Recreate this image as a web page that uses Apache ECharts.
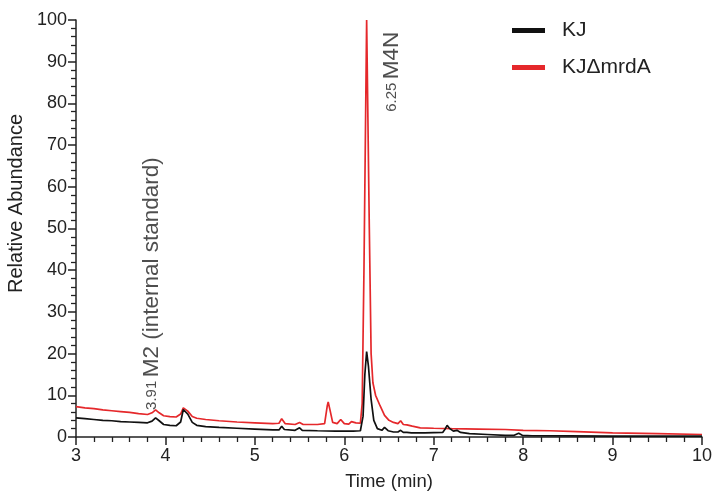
<!DOCTYPE html>
<html><head><meta charset="utf-8">
<script src="https://cdn.jsdelivr.net/npm/echarts@6/dist/echarts.min.js"></script>
<style>html,body{margin:0;padding:0;background:#fff}#c{width:713px;height:495px}</style>
</head><body><div id="c"></div>
<script>
const kjTime = [3.00,3.10,3.20,3.30,3.40,3.50,3.60,3.70,3.80,3.85,3.89,3.93,3.98,4.05,4.12,4.17,4.20,4.22,4.25,4.30,4.35,4.45,4.60,4.80,5.00,5.20,5.27,5.30,5.33,5.45,5.50,5.53,5.70,5.90,6.10,6.18,6.21,6.23,6.25,6.27,6.30,6.33,6.37,6.42,6.45,6.49,6.55,6.60,6.63,6.66,6.70,6.72,6.75,6.90,7.10,7.13,7.15,7.18,7.22,7.26,7.30,7.40,7.60,7.80,7.90,7.95,7.99,8.10,8.50,9.00,9.50,10.00];
const kjValues = [4.6,4.4,4.2,4.0,3.9,3.7,3.6,3.5,3.4,3.8,4.6,3.9,3.0,2.8,2.7,3.6,6.6,7.0,5.5,3.5,2.8,2.5,2.3,2.1,1.9,1.7,1.7,2.6,1.8,1.6,2.2,1.6,1.5,1.4,1.4,1.5,5,15,20.5,17,9,4,2.0,1.6,2.3,1.5,1.2,1.2,1.6,1.1,1.1,1.4,1.0,1.0,1.1,2.0,2.8,2.0,1.4,1.6,1.1,0.8,0.6,0.4,0.4,0.9,0.4,0.3,0.25,0.2,0.2,0.2];
const mrdTime = [3.00,3.10,3.20,3.30,3.40,3.50,3.60,3.70,3.80,3.85,3.89,3.93,3.98,4.05,4.12,4.17,4.20,4.22,4.25,4.30,4.35,4.45,4.60,4.80,5.00,5.20,5.27,5.30,5.34,5.45,5.50,5.54,5.70,5.78,5.81,5.82,5.84,5.87,5.92,5.96,6.00,6.05,6.08,6.13,6.18,6.20,6.22,6.25,6.28,6.30,6.32,6.35,6.40,6.45,6.50,6.55,6.60,6.63,6.66,6.70,6.72,6.76,6.85,7.00,7.20,7.50,7.80,8.00,8.30,8.60,9.00,9.50,10.00];
const mrdValues = [7.3,7.0,6.8,6.5,6.3,6.1,5.9,5.6,5.4,5.8,6.5,5.8,5.1,4.9,4.8,5.5,7.0,7.2,6.2,4.9,4.5,4.2,3.9,3.6,3.4,3.2,3.3,4.4,3.2,3.0,3.5,3.0,3.0,3.2,7.5,8.4,6.5,3.5,3.2,4.2,3.2,3.1,3.7,3.4,3.3,8,40,100,50,20,13,10,7.5,5.2,4.0,3.5,3.2,3.9,3.0,2.9,3.3,2.6,2.2,2.1,2.0,1.9,1.8,1.6,1.5,1.3,1.0,0.8,0.6];
const xTicks = [3,4,5,6,7,8,9,10];
const yTicks = [0,10,20,30,40,50,60,70,80,90,100];
const seriesNames = ['KJ','KJΔmrdA'];
const annotations = [
  {x:3.85, y:6.5, small:'3.91', big:'M2 (internal standard)'},
  {x:6.53, y:78, small:'6.25', big:'M4N'}
];

const zip = (a,b)=>a.map((t,i)=>[t,b[i]]);
const font = 'Liberation Sans, Arial, Helvetica, sans-serif';
const chart = echarts.init(document.getElementById('c'), null, {renderer:'canvas'});
const axisCommon = {
  axisLine:{show:true,lineStyle:{color:'#222',width:1.5}},
  axisTick:{show:true,inside:false,length:8,lineStyle:{color:'#222',width:1.5}},
  minorTick:{show:true,splitNumber:5,length:5,lineStyle:{color:'#222',width:1.3}},
  splitLine:{show:false},
  axisLabel:{color:'#222',fontSize:18,fontFamily:font}
};
chart.setOption({
  animation:false,
  backgroundColor:'#fff',
  grid:{left:76,right:11,top:20,bottom:58,containLabel:false,outerBoundsMode:'none'},
  legend:{
    data:seriesNames, orient:'vertical', left:507, top:15, itemGap:16,
    itemWidth:33, itemHeight:5, icon:'rect',
    textStyle:{fontSize:21,fontFamily:font,color:'#222',padding:[0,0,0,12]}
  },
  xAxis:Object.assign({}, axisCommon, {
    type:'value', min:xTicks[0], max:xTicks[xTicks.length-1], interval:1,
    name:'Time (min)', nameLocation:'middle', nameGap:35,
    nameTextStyle:{fontSize:18.5,fontFamily:font,color:'#222'},
    axisLabel:Object.assign({}, axisCommon.axisLabel,{margin:10})
  }),
  yAxis:Object.assign({}, axisCommon, {
    type:'value', min:yTicks[0], max:yTicks[yTicks.length-1], interval:10,
    name:'Relative Abundance', nameLocation:'middle', nameGap:48,
    nameTextStyle:{fontSize:20,fontFamily:font,color:'#222',padding:[0,0,0,50]},
    axisLabel:Object.assign({}, axisCommon.axisLabel,{margin:9})
  }),
  series:[
    {name:seriesNames[1], type:'line', data:zip(mrdTime,mrdValues), showSymbol:false, symbol:'none',
     lineStyle:{color:'#e5282b',width:1.7}, itemStyle:{color:'#e5282b'}, z:2},
    {name:seriesNames[0], type:'line', data:zip(kjTime,kjValues), showSymbol:false, symbol:'none',
     lineStyle:{color:'#111',width:1.7}, itemStyle:{color:'#111'}, z:3},
    {name:'annot', type:'scatter', symbolSize:0, silent:true, z:4,
     data:annotations.map(a=>({value:[a.x,a.y], small:a.small, big:a.big})),
     label:{show:true, position:[0,0], rotate:90, align:'left', verticalAlign:'middle',
       formatter:p=>'{s|'+p.data.small+'} {b|'+p.data.big+'}',
       rich:{s:{fontSize:15,fontFamily:font,color:'#222'}, b:{fontSize:22.5,fontFamily:font,color:'#222'}}}
    }
  ]
});
</script></body></html>
